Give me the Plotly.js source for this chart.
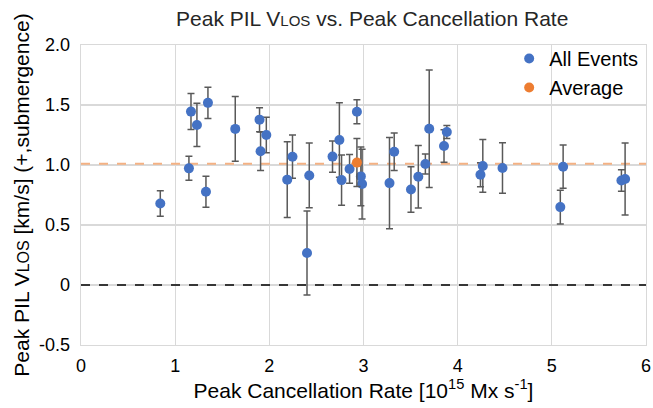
<!DOCTYPE html>
<html><head><meta charset="utf-8">
<script src="https://cdn.plot.ly/plotly-3.0.1.min.js"></script>
<style>html,body{margin:0;padding:0;background:#fff}#chart{width:653px;height:408px}</style>
</head><body><div id="chart"></div>
<script>
const eventRate = [0.842,1.146,1.168,1.231,1.327,1.348,1.638,1.896,1.907,1.968,2.19,2.246,2.40,2.424,2.671,2.744,2.767,2.852,2.93,2.972,2.985,3.276,3.326,3.504,3.582,3.657,3.698,3.855,3.885,4.242,4.267,4.476,5.09,5.12,5.739,5.778];
const eventVlos = [0.679,0.972,1.445,1.334,0.777,1.518,1.301,1.378,1.115,1.250,0.878,1.069,0.267,0.913,1.070,1.208,0.874,0.967,1.444,0.905,0.841,0.849,1.111,0.796,0.902,1.008,1.302,1.158,1.275,0.919,0.992,0.975,0.649,0.986,0.871,0.883];
const eventErr  = [0.106,0.10,0.15,0.18,0.13,0.13,0.27,0.10,0.16,0.148,0.315,0.18,0.35,0.27,0.13,0.31,0.21,0.12,0.10,0.245,0.29,0.38,0.156,0.19,0.26,0.083,0.49,0.135,0.055,0.10,0.22,0.21,0.14,0.18,0.09,0.30];
const avgRate = [2.93];
const avgVlos = [1.02];
const avgErr = [0.20];
const avgLineX = [0, 6];
const avgLineY = [1.01, 1.01];
const zeroLineX = [0, 6];
const zeroLineY = [0, 0];
const xTicks = [0,1,2,3,4,5,6];
const xTickText = ['0','1','2','3','4','5','6'];
const yTicks = [-0.5,0,0.5,1.0,1.5,2.0];
const yTickText = ['-0.5','0','0.5','1.0','1.5','2.0'];

const font = 'Liberation Sans, Arial, sans-serif';
const errStyle = {type:'data', visible:true, color:'#595959', thickness:1.5, width:3.5};

const traces = [
  {x: avgLineX, y: avgLineY, mode:'lines', line:{color:'#F4B183', width:2, dash:'dash'}, showlegend:false, hoverinfo:'skip'},
  {x: zeroLineX, y: zeroLineY, mode:'lines', line:{color:'#000000', width:1.3, dash:'dash'}, showlegend:false, hoverinfo:'skip'},
  {x: eventRate, y: eventVlos, mode:'markers', name:'All Events',
   marker:{color:'#4472C4', size:10}, error_y: Object.assign({array: eventErr}, errStyle)},
  {x: avgRate, y: avgVlos, mode:'markers', name:'Average',
   marker:{color:'#ED7D31', size:10}, error_y: Object.assign({array: avgErr}, errStyle)}
];

const layout = {
  width:653, height:408,
  margin:{l:81, r:7, t:45, b:63},
  paper_bgcolor:'#ffffff', plot_bgcolor:'#ffffff',
  font:{family:font, size:18, color:'#000'},
  title:{text:'Peak PIL V<span style="font-size:15px">LOS</span> vs. Peak Cancellation Rate', font:{family:font, size:21, color:'#262626'}, x:0.57, xanchor:'center', y:0.955, yanchor:'middle'},
  xaxis:{range:[0,6], tickvals:xTicks, ticktext:xTickText, showgrid:true, gridcolor:'#d9d9d9', gridwidth:1.3,
    zeroline:false, showline:true, mirror:true, linecolor:'#d9d9d9', linewidth:1.3, ticks:'', ticklen:0,
    ticklabelstandoff:4,
    tickfont:{size:18, color:'#000'},
    title:{text:'Peak Cancellation Rate [10<sup>15</sup> Mx s<sup>-1</sup>]', font:{size:21, color:'#000'}, standoff:3}},
  yaxis:{range:[-0.5,2.0], tickvals:yTicks, ticktext:yTickText, showgrid:true, gridcolor:'#d9d9d9', gridwidth:1.3,
    zeroline:false, showline:true, mirror:true, linecolor:'#d9d9d9', linewidth:1.3, ticks:'',
    ticklabelstandoff:6,
    tickfont:{size:18, color:'#000'},
    title:{text:'Peak PIL V<span style="font-size:16px">LOS</span> [km/s] (+,submergence)', font:{size:21, color:'#000'}, standoff:3}},
  legend:{x:0.995, xanchor:'right', y:1.02, yanchor:'top', bgcolor:'rgba(0,0,0,0)', font:{size:20, color:'#000'}, itemwidth:30, tracegroupgap:0},
  showlegend:true
};
Plotly.newPlot('chart', traces, layout, {displayModeBar:false, staticPlot:true});
</script></body></html>
